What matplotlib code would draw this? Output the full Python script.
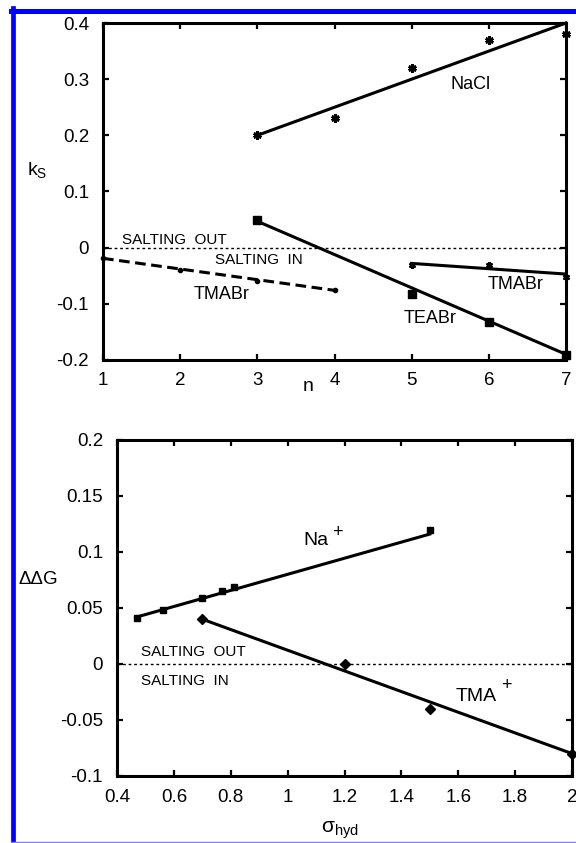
import matplotlib
matplotlib.use('Agg')
import matplotlib.pyplot as plt
from matplotlib.lines import Line2D

plt.rcParams['font.family'] = ['Liberation Sans', 'DejaVu Sans']
plt.rcParams['mathtext.fontset'] = 'custom'
plt.rcParams['mathtext.rm'] = 'Liberation Sans'
plt.rcParams['mathtext.it'] = 'Liberation Sans:italic'
plt.rcParams['axes.unicode_minus'] = False

# top panel: salting constant k_S against chain length n
n_nacl = [3, 4, 5, 6, 7]
ks_nacl = [0.20, 0.23, 0.32, 0.37, 0.38]
fit_n_nacl = [3, 7]
fit_ks_nacl = [0.20, 0.40]

n_teabr = [3, 5, 6, 7]
ks_teabr = [0.049, -0.082, -0.132, -0.191]
fit_n_teabr = [3, 7]
fit_ks_teabr = [0.047, -0.19]

n_tmabr_a = [1, 2, 3, 4]
ks_tmabr_a = [-0.019, -0.039, -0.059, -0.075]
fit_n_tmabr_a = [1, 4]
fit_ks_tmabr_a = [-0.019, -0.076]

n_tmabr_b = [5, 6, 7]
ks_tmabr_b = [-0.031, -0.031, -0.052]
fit_n_tmabr_b = [5, 7]
fit_ks_tmabr_b = [-0.028, -0.047]

n_ticks = [1, 2, 3, 4, 5, 6, 7]
n_ticklabels = ['1', '2', '3', '4', '5', '6', '7']
ks_ticks = [-0.2, -0.1, 0, 0.1, 0.2, 0.3, 0.4]
ks_ticklabels = ['-0.2', '-0.1', '0', '0.1', '0.2', '0.3', '0.4']

# bottom panel: ddG against sigma_hyd
sig_na = [0.47, 0.56, 0.70, 0.77, 0.81, 1.50]
ddg_na = [0.041, 0.048, 0.059, 0.065, 0.069, 0.120]
fit_sig_na = [0.47, 1.50]
fit_ddg_na = [0.042, 0.116]

sig_tma = [0.70, 1.20, 1.50, 2.00]
ddg_tma = [0.040, 0.000, -0.040, -0.080]
fit_sig_tma = [0.70, 2.00]
fit_ddg_tma = [0.040, -0.080]

sig_ticks = [0.4, 0.6, 0.8, 1.0, 1.2, 1.4, 1.6, 1.8, 2.0]
sig_ticklabels = ['0.4', '0.6', '0.8', '1', '1.2', '1.4', '1.6', '1.8', '2']
ddg_ticks = [-0.1, -0.05, 0, 0.05, 0.1, 0.15, 0.2]
ddg_ticklabels = ['-0.1', '-0.05', '0', '0.05', '0.1', '0.15', '0.2']

W, H = 576, 843
fig = plt.figure(figsize=(W / 100, H / 100), dpi=100)

def px_axes(left, top, right, bottom):
    return fig.add_axes([left / W, 1 - bottom / H, (right - left) / W, (bottom - top) / H])

def style(ax):
    for s in ax.spines.values():
        s.set_linewidth(2.2)
    ax.tick_params(direction='in', top=True, right=True, length=4, width=1.6,
                   labelsize=13.5)
    ax.tick_params(axis='x', pad=9)
    ax.tick_params(axis='y', pad=10)

lw = 2.2
star = (6, 2, 0)

ax1 = px_axes(103, 23, 566, 360)
style(ax1)
ax1.set_xlim(1, 7)
ax1.set_ylim(-0.2, 0.4)
ax1.set_xticks(n_ticks, n_ticklabels)
ax1.set_yticks(ks_ticks, ks_ticklabels)

ax1.plot([1, 7], [0, 0], color='black', lw=1, linestyle=(0, (2, 2)))
ax1.plot(fit_n_nacl, fit_ks_nacl, color='black', lw=lw, clip_on=False)
ax1.plot(n_nacl, ks_nacl, linestyle='none', marker=star, ms=6, mew=2,
         color='black', clip_on=False)
ax1.plot(fit_n_teabr, fit_ks_teabr, color='black', lw=lw, clip_on=False)
ax1.plot(n_teabr, ks_teabr, linestyle='none', marker='s', ms=6,
         color='black', clip_on=False)
ax1.plot(fit_n_tmabr_a, fit_ks_tmabr_a, color='black', lw=lw,
         dashes=(3.5, 1.8), clip_on=False)
ax1.plot(n_tmabr_a, ks_tmabr_a, linestyle='none', marker='o', ms=3,
         color='black', clip_on=False)
ax1.plot(fit_n_tmabr_b, fit_ks_tmabr_b, color='black', lw=lw, clip_on=False)
ax1.plot(n_tmabr_b, ks_tmabr_b, linestyle='none', marker=star, ms=5, mew=1.6,
         color='black', clip_on=False)

ax1.text(5.76, 0.291, 'NaCl', fontsize=13, ha='center', va='center')
ax1.text(1.25, 0.0137, 'SALTING  OUT', fontsize=11, ha='left', va='center')
ax1.text(2.45, -0.022, 'SALTING  IN', fontsize=11, ha='left', va='center')
ax1.text(2.53, -0.0825, 'TMABr', fontsize=13, ha='center', va='center')
ax1.text(6.34, -0.066, 'TMABr', fontsize=13, ha='center', va='center')
ax1.text(5.24, -0.127, 'TEABr', fontsize=13, ha='center', va='center')
ax1.text(-0.1425, 0.564, r'k$_\mathrm{S}$', fontsize=14, ha='center', va='center',
         transform=ax1.transAxes)
ax1.text(0.443, -0.08, 'n', fontsize=14, ha='center', va='center',
         transform=ax1.transAxes)

ax2 = px_axes(117, 440, 572, 776)
style(ax2)
ax2.set_xlim(0.4, 2.0)
ax2.set_ylim(-0.1, 0.2)
ax2.set_xticks(sig_ticks, sig_ticklabels)
ax2.set_yticks(ddg_ticks, ddg_ticklabels)

ax2.plot([0.4, 2.0], [0, 0], color='black', lw=1, linestyle=(0, (2, 2)))
ax2.plot(fit_sig_na, fit_ddg_na, color='black', lw=lw, clip_on=False)
ax2.plot(sig_na, ddg_na, linestyle='none', marker='s', ms=4.5,
         color='black', clip_on=False)
ax2.plot(fit_sig_tma, fit_ddg_tma, color='black', lw=lw, clip_on=False)
ax2.plot(sig_tma, ddg_tma, linestyle='none', marker='D', ms=5.5,
         color='black', clip_on=False)

ax2.text(1.054, 0.110, 'Na', fontsize=14, ha='left', va='center')
ax2.text(1.175, 0.1175, '+', fontsize=13, ha='center', va='center')
ax2.text(0.484, 0.0107, 'SALTING  OUT', fontsize=11, ha='left', va='center')
ax2.text(0.484, -0.015, 'SALTING  IN', fontsize=11, ha='left', va='center')
ax2.text(1.592, -0.0286, 'TMA', fontsize=14, ha='left', va='center')
ax2.text(1.768, -0.0195, '+', fontsize=13, ha='center', va='center')
ax2.text(-0.174, 0.586, 'ΔΔG', fontsize=13.5, ha='center', va='center',
         transform=ax2.transAxes)
ax2.text(0.49, -0.16, r'$\mathrm{\sigma}_\mathrm{hyd}$', fontsize=15,
         ha='center', va='center', transform=ax2.transAxes)

# blue page frame
fig.add_artist(Line2D([13 / W, 13 / W], [0, 1 - 8 / H], color='#0000ff', lw=3.4,
                      transform=fig.transFigure))
fig.add_artist(Line2D([11 / W, 1], [1 - 10.5 / H, 1 - 10.5 / H], color='#0000ff',
                      lw=3.6, transform=fig.transFigure))
fig.add_artist(Line2D([11 / W, 1], [1 - 842 / H, 1 - 842 / H], color='#8080ff',
                      lw=1, transform=fig.transFigure))

fig.savefig('out.png', dpi=100)
